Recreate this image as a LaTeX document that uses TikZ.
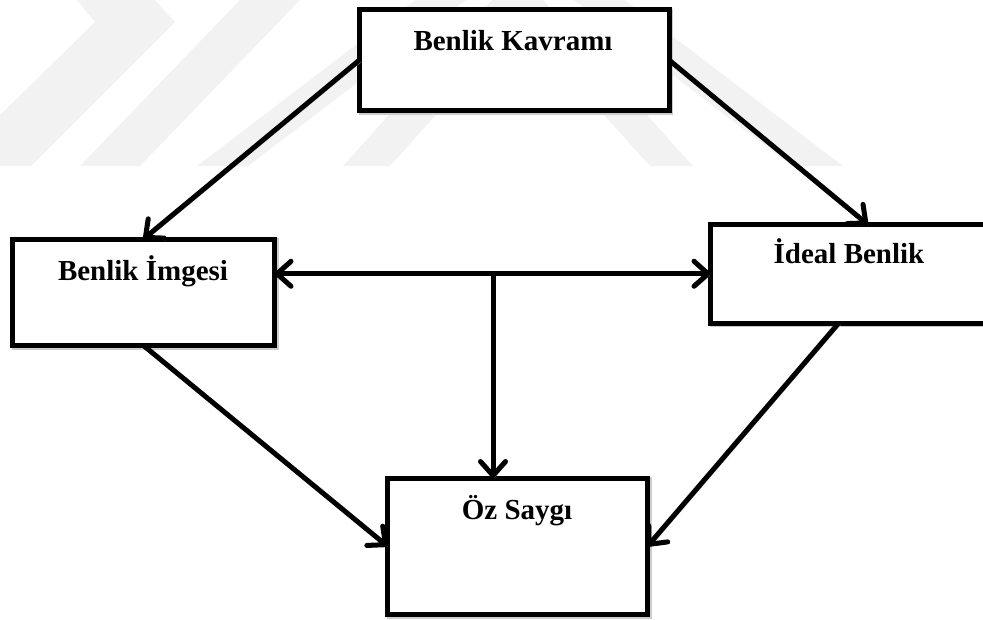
\documentclass[tikz,border=0pt]{standalone}
\usepackage{fontspec}
\setmainfont{Liberation Serif}
\usetikzlibrary{arrows.meta}
\tikzset{barb/.tip={Straight Barb[length=14pt,width=25pt,round]}}
\begin{document}
\begin{tikzpicture}[x=1pt,y=-1pt,
  box/.style={draw=black, line width=5pt, fill=white, rectangle, outer sep=0pt, inner sep=0pt,
    preaction={draw=gray!40, transform canvas={shift={(1.5pt,-1.5pt)}}}},
  lbl/.style={font=\fontsize{29}{32}\selectfont\bfseries, anchor=base, inner sep=0pt},
  conn/.style={line width=5pt, -barb,
    preaction={draw=gray!55, transform canvas={shift={(1.8pt,-1.8pt)}}}},
  dconn/.style={line width=5pt, barb-barb,
    preaction={draw=gray!55, transform canvas={shift={(1.8pt,-1.8pt)}}}},
  wm/.style={fill=black!5, draw=none}]
\clip (0,0) rectangle (983,619);
% faint watermark
\fill[wm] (77,0) -- (155,0) -- (175,22) -- (31,166) -- (0,166) -- (0,115) -- (95,22) -- cycle;
\fill[wm] (240,0) -- (300,0) -- (140,166) -- (80,166) -- cycle;
\fill[wm] (415,0) -- (466,0) -- (248,166) -- (197,166) -- cycle;
\fill[wm] (574,0) -- (625,0) -- (843,166) -- (792,166) -- cycle;
\fill[wm] (492,0) -- (539,0) -- (390,166) -- (343,166) -- cycle;
\fill[wm] (500,0) -- (543,0) -- (693,166) -- (650,166) -- cycle;
% boxes
\node[box, minimum width=309.5pt, minimum height=101pt] (kav) at (514.25,60) {};
\node[lbl] (kavt) at (513,50) {Benlik Kavramı};
\node[box, minimum width=262pt, minimum height=106.5pt] (img) at (143.5,292.25) {};
\node[lbl] (imgt) at (143,280) {Benlik İmgesi};
\node[box, minimum width=274.5pt, minimum height=98.5pt] (ide) at (847.75,273.75) {};
\node[lbl] (idet) at (849,263) {İdeal Benlik};
\node[box, minimum width=260pt, minimum height=136.5pt] (oz) at (517.5,546.25) {};
\node[lbl] (ozt) at (517,519) {Öz Saygı};
% connectors
\draw[conn] (kav.west) -- (img.north);
\draw[conn] (kav.east) -- ([xshift=20pt]ide.north);
\draw[conn] (img.south) -- (oz.west);
\draw[conn] ([xshift=-9pt]ide.south) -- (oz.east);
\draw[dconn] (img.east |- ide.west) -- (ide.west);
\coordinate (j) at (493,273.75);
\draw[conn] (j) -- (j |- oz.north);
\end{tikzpicture}
\end{document}
